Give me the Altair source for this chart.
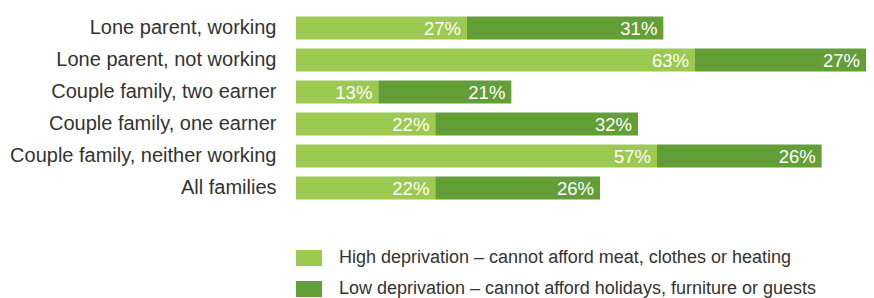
import altair as alt
import pandas as pd

categories = [
    "Lone parent, working",
    "Lone parent, not working",
    "Couple family, two earner",
    "Couple family, one earner",
    "Couple family, neither working",
    "All families",
]
high = [27, 63, 13, 22, 57, 22]
low = [31, 27, 21, 32, 26, 26]
series = [
    "High deprivation \u2013 cannot afford meat, clothes or heating",
    "Low deprivation \u2013 cannot afford holidays, furniture or guests",
]
colors = ["#9cca50", "#639e37"]

rows = []
for i, c in enumerate(categories):
    rows.append({"category": c, "series": series[0], "order": 0, "value": high[i]})
    rows.append({"category": c, "series": series[1], "order": 1, "value": low[i]})
df = pd.DataFrame(rows)

FONT = "Liberation Sans"

base = alt.Chart(df).transform_stack(
    stack="value", groupby=["category"], as_=["x0", "x1"], sort=[alt.SortField("order")]
).transform_calculate(label="datum.value + '%'")

yenc = alt.Y(
    "category:N",
    sort=categories,
    scale=alt.Scale(paddingInner=0.28, paddingOuter=0.14),
    axis=alt.Axis(
        title=None, ticks=False, domain=False, labelPadding=20,
        labelFontSize=20, labelColor="#333333", labelFont=FONT, labelLimit=0,
    ),
)
xscale = alt.Scale(domain=[0, 90], nice=False)

bars = base.mark_bar().encode(
    x=alt.X("x0:Q", scale=xscale, axis=None),
    x2="x1:Q",
    y=yenc,
    color=alt.Color(
        "series:N",
        scale=alt.Scale(domain=series, range=colors),
        legend=alt.Legend(
            title=None, orient="none", legendX=0, legendY=233,
            symbolType="M-1,-0.615H1V0.615H-1Z", symbolSize=676,
            symbolStrokeWidth=0, symbolOpacity=1,
            labelFontSize=18, labelFont=FONT, labelColor="#333333",
            labelOffset=17, rowPadding=9, labelLimit=0, padding=0,
        ),
    ),
)

texts = base.mark_text(
    align="right", baseline="middle", dx=-6, dy=1, color="white",
    fontSize=18.5, font=FONT,
).encode(
    x=alt.X("x1:Q", scale=xscale, axis=None),
    y=alt.Y("category:N", sort=categories),
    text="label:N",
)

chart = (
    alt.layer(bars, texts)
    .properties(
        width=570, height=192,
        autosize=alt.AutoSizeParams(type="none"),
        padding={"left": 288, "top": 4, "right": 0, "bottom": 94},
    )
    .configure_view(stroke=None)
)

chart.save("out.html", embed_options={"renderer": "svg", "actions": False})
